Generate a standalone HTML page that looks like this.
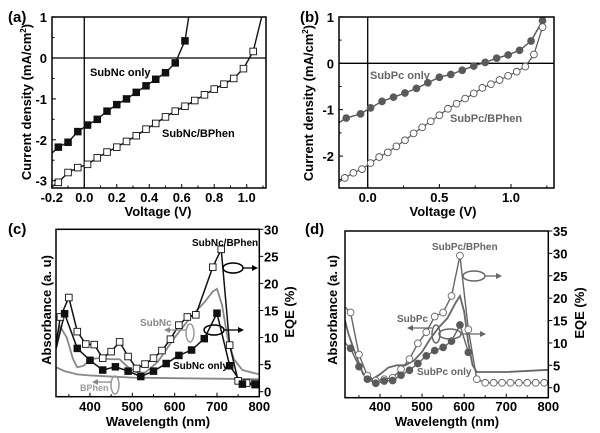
<!DOCTYPE html>
<html><head><meta charset="utf-8">
<style>
html,body{margin:0;padding:0;background:#fff;}
svg{display:block;font-family:"Liberation Sans",Arial,sans-serif;font-weight:bold;}
</style></head>
<body>
<svg id="fig" width="600" height="433" viewBox="0 0 600 433"></svg>
<script>
// ---------- data ----------
const aOnlyV=[-0.16,-0.10,-0.04,0.02,0.08,0.14,0.20,0.26,0.32,0.38,0.44,0.50,0.56,0.62];
const aOnlyJ=[-2.18,-2.06,-1.80,-1.64,-1.50,-1.30,-1.14,-1.00,-0.84,-0.68,-0.52,-0.36,-0.12,0.42];
const aBpV=[-0.16,-0.10,-0.04,0.02,0.08,0.14,0.20,0.26,0.32,0.38,0.44,0.50,0.56,0.62,0.68,0.74,0.80,0.86,0.92,0.98,1.04];
const aBpJ=[-3.04,-2.80,-2.68,-2.60,-2.44,-2.30,-2.18,-2.04,-1.90,-1.74,-1.60,-1.44,-1.30,-1.18,-1.04,-0.90,-0.76,-0.64,-0.50,-0.26,0.16];
const bOnlyV=[-0.15,-0.05,0.02,0.10,0.18,0.26,0.34,0.42,0.50,0.58,0.66,0.74,0.82,0.90,0.98,1.06,1.14,1.22];
const bOnlyJ=[-1.18,-1.09,-0.96,-0.82,-0.73,-0.64,-0.54,-0.42,-0.30,-0.24,-0.15,-0.06,0.02,0.11,0.18,0.28,0.48,0.92];
const bBpV=[-0.16,-0.10,-0.04,0.02,0.08,0.14,0.20,0.26,0.32,0.38,0.44,0.50,0.56,0.62,0.68,0.74,0.80,0.86,0.92,0.98,1.04,1.10,1.16,1.22];
const bBpJ=[-2.47,-2.36,-2.28,-2.15,-2.02,-1.92,-1.79,-1.66,-1.51,-1.38,-1.25,-1.12,-0.98,-0.87,-0.76,-0.65,-0.53,-0.45,-0.36,-0.27,-0.18,-0.07,0.19,0.78];
const cBpL=[330,350,370,390,410,430,450,470,490,510,530,550,570,590,610,630,650,690,710,730,750,770,790];
const cBpE=[13.8,17.4,11.1,8.8,8.7,6.2,7.4,9.2,6.5,4.3,5.1,6.2,7.6,9.7,12.3,13.8,14.2,23,26.3,8.6,2.0,1.6,1.5];
const cOnlyL=[340,370,400,430,460,490,520,550,580,610,640,670,700,730,760,790];
const cOnlyE=[14.4,8.0,5.8,4.0,4.6,3.8,2.8,3.8,5.2,6.7,7.7,9.8,14.5,4.8,1.4,1.3];
const cAbsL=[320,330,345,360,370,385,400,420,450,470,490,510,530,560,600,640,670,690,700,712,725,740,760,800];
const cAbsV=[8,12,10,6,4.5,4.8,6,6.2,6,6,4.5,3.6,3.5,5.5,10,14,16.5,18.5,19,16,10,6,4,3.2];
const cBphL=[320,340,370,400,450,500,600,700,800];
const cBphV=[4.5,3.8,3.2,3.0,2.8,2.6,2.5,2.4,2.3];
const dBpL=[330,350,370,390,410,430,450,470,490,510,530,550,570,590,610,630,650,670,690,710,730,750,770,790];
const dBpE=[16.8,7.4,2.7,1.6,1.9,2.2,4.1,6.4,9.9,12.4,15.9,16.8,20.5,29.5,13,1.9,1.1,1.1,1.1,1.1,1.1,1.1,1.1,1.1];
const dOnlyL=[330,350,370,390,410,430,450,470,490,510,530,550,570,590,610];
const dOnlyE=[8.8,4.7,1.9,1.0,1.5,1.6,2.8,3.9,5.4,7.1,8.3,9.0,10.4,14.0,7.9];
const dAbsL=[317,325,340,360,380,400,420,440,460,480,500,520,540,560,580,590,600,610,620,630,700,800];
const dAbsV=[15,12,8,3,1.8,3,4.5,5,5,6,8,11,13.5,15.5,19,20.5,17,10,5,3.5,3.5,4];
const aXTicks=[-0.2,0.0,0.2,0.4,0.6,0.8,1.0];
const aYTicks=[1,0,-1,-2,-3];
const bXTicks=[0.0,0.5,1.0];
const bYTicks=[1,0,-1,-2];
const cXTicks=[400,500,600,700,800];
const cYTicks=[0,5,10,15,20,25,30];
const dYTicks=[0,5,10,15,20,25,30,35];

const NS="http://www.w3.org/2000/svg";
const svg=document.getElementById('fig');
function el(tag,attrs,parent,text){const e=document.createElementNS(NS,tag);for(const k in attrs)e.setAttribute(k,attrs[k]);if(text!==undefined)e.textContent=text;(parent||svg).appendChild(e);return e;}
function scale(d0,d1,r0,r1){return v=>r0+(v-d0)*(r1-r0)/(d1-d0);}
function fmt(v,dec){return v.toFixed(dec);}

function frame(g,L,T,R,B){const r=el('rect',{x:L,y:T,width:R-L,height:B-T,fill:'none',stroke:'#000','stroke-width':1.5},g);}
function line(g,xs,ys,X,Y,color,w,name){const p=el('polyline',{points:xs.map((v,i)=>X(v)+','+Y(ys[i])).join(' '),fill:'none',stroke:color,'stroke-width':w},g);return p;}
function squares(g,xs,ys,X,Y,filled,name){xs.forEach((v,i)=>{const r=el('rect',{x:X(v)-3.3,y:Y(ys[i])-3.3,width:6.6,height:6.6,fill:filled?'#111':'#fff',stroke:'#111','stroke-width':0.9},g);});}
function circles(g,xs,ys,X,Y,fill,stroke,name){xs.forEach((v,i)=>{const c=el('circle',{cx:X(v),cy:Y(ys[i]),r:3.4,fill:fill,stroke:stroke,'stroke-width':0.9},g);});}
function text(g,x,y,s,opts,name){const t=el('text',Object.assign({x:x,y:y,'font-size':12},opts||{}),g,s);return t;}
function clip(id,L,T,R,B){const d=el('defs',{});const cp=el('clipPath',{id:id},d);el('rect',{x:L,y:T,width:R-L,height:B-T},cp);}

// ---------- panel a ----------
(function(){
const L=52,T=17,R=266,B=188;
const X=scale(-0.2,1.0,51.8,246.7), Y=scale(0,-3,58,180.7);
const g=el('g',{});
clip('ca',L,T,R,B);
const pg=el('g',{'clip-path':'url(#ca)'},g);
el('line',{x1:L,x2:R,y1:Y(0),y2:Y(0),stroke:'#000','stroke-width':1.3},pg);
el('line',{x1:X(0),x2:X(0),y1:T,y2:B,stroke:'#000','stroke-width':1.3},pg);
line(pg,[-0.2].concat(aOnlyV,[0.645]),[-2.33].concat(aOnlyJ,[1.05]),X,Y,'#111',1.4,'subnc-only-line');
line(pg,[-0.2].concat(aBpV,[1.095]),[-3.15].concat(aBpJ,[1.05]),X,Y,'#111',1.4,'subnc-bphen-line');
squares(pg,aOnlyV,aOnlyJ,X,Y,true,'subnc-only-marker');
squares(pg,aBpV,aBpJ,X,Y,false,'subnc-bphen-marker');
frame(g,L,T,R,B);
aXTicks.forEach(v=>{el('line',{x1:X(v),x2:X(v),y1:B,y2:B-4,stroke:'#000'},g);el('line',{x1:X(v+0.1),x2:X(v+0.1),y1:B,y2:B-2.5,stroke:'#000'},g);text(g,X(v),202,fmt(v,1),{'text-anchor':'middle','font-size':13},'x-tick-label');});
aYTicks.forEach(v=>{el('line',{x1:L,x2:L+4,y1:Y(v),y2:Y(v),stroke:'#000'},g);if(v>-3)el('line',{x1:L,x2:L+2.5,y1:Y(v-0.5),y2:Y(v-0.5),stroke:'#000'},g);text(g,47,Y(v)+5,String(v),{'text-anchor':'end','font-size':13},'y-tick-label');});
text(g,158,216,'Voltage (V)',{'text-anchor':'middle','font-size':13},'x-axis-title');
const yt=text(g,0,0,'',{'font-size':13,transform:'translate(31,102) rotate(-90)','text-anchor':'middle'},'y-axis-title');
yt.innerHTML='Current density (mA/cm<tspan dy="-5" font-size="8">2</tspan><tspan dy="5">)</tspan>';
text(g,8,22,'(a)',{'font-size':15},'panel-label-a');
text(g,90,76,'SubNc only',{'font-size':11},'label-subnc-only');
text(g,162,137,'SubNc/BPhen',{'font-size':11},'label-subnc-bphen');
})();

// ---------- panel b ----------
(function(){
const L=339,T=17,R=554,B=188;
const X=scale(0,1,367.7,511), Y=scale(0,-1,63.3,109.7);
const g=el('g',{});
clip('cb',L,T,R,B);
const pg=el('g',{'clip-path':'url(#cb)'},g);
el('line',{x1:L,x2:R,y1:Y(0),y2:Y(0),stroke:'#000','stroke-width':1.3},pg);
el('line',{x1:X(0),x2:X(0),y1:T,y2:B,stroke:'#000','stroke-width':1.3},pg);
line(pg,[-0.2].concat(bOnlyV),[-1.28].concat(bOnlyJ),X,Y,'#555',1.4,'subpc-only-line');
line(pg,[-0.2].concat(bBpV),[-2.56].concat(bBpJ),X,Y,'#555',1.2,'subpc-bphen-line');
circles(pg,bOnlyV,bOnlyJ,X,Y,'#5a5a5a','#5a5a5a','subpc-only-marker');
circles(pg,bBpV,bBpJ,X,Y,'#fff','#555','subpc-bphen-marker');
frame(g,L,T,R,B);
bXTicks.forEach(v=>{el('line',{x1:X(v),x2:X(v),y1:B,y2:B-4,stroke:'#000'},g);el('line',{x1:X(v+0.25),x2:X(v+0.25),y1:B,y2:B-2.5,stroke:'#000'},g);text(g,X(v),202,fmt(v,1),{'text-anchor':'middle','font-size':13},'x-tick-label');});
bYTicks.forEach(v=>{el('line',{x1:L,x2:L+4,y1:Y(v),y2:Y(v),stroke:'#000'},g);el('line',{x1:L,x2:L+2.5,y1:Y(v-0.5),y2:Y(v-0.5),stroke:'#000'},g);text(g,334,Y(v)+5,String(v),{'text-anchor':'end','font-size':13},'y-tick-label');});
text(g,443,216,'Voltage (V)',{'text-anchor':'middle','font-size':13},'x-axis-title');
const yt=text(g,0,0,'',{'font-size':13,transform:'translate(313,103) rotate(-90)','text-anchor':'middle'},'y-axis-title');
yt.innerHTML='Current density (mA/cm<tspan dy="-5" font-size="8">2</tspan><tspan dy="5">)</tspan>';
text(g,300,22,'(b)',{'font-size':15},'panel-label-b');
text(g,370,79,'SubPc only',{'font-size':11,fill:'#666'},'label-subpc-only');
text(g,450,122,'SubPc/BPhen',{'font-size':11,fill:'#666'},'label-subpc-bphen');
})();

// ---------- panel c ----------
(function(){
const L=56,T=229.3,R=259.3,B=396.7;
const X=scale(400,800,90,259.3), Y=scale(0,30,391.7,229.3);
const g=el('g',{});
clip('cc',L,T,R,B);
const pg=el('g',{'clip-path':'url(#cc)'},g);
line(pg,cBphL,cBphV,X,Y,'#888',1.8,'bphen-absorbance');
line(pg,cAbsL,cAbsV,X,Y,'#888',1.8,'subnc-absorbance');
line(pg,[320].concat(cBpL),[9].concat(cBpE),X,Y,'#111',1.5,'subnc-bphen-eqe-line');
line(pg,[320].concat(cOnlyL),[8].concat(cOnlyE),X,Y,'#111',1.5,'subnc-only-eqe-line');
squares(pg,cBpL,cBpE,X,Y,false,'subnc-bphen-marker');
squares(pg,cOnlyL,cOnlyE,X,Y,true,'subnc-only-marker');
frame(g,L,T,R,B);
cXTicks.forEach(v=>{el('line',{x1:X(v),x2:X(v),y1:B,y2:B-4,stroke:'#000'},g);el('line',{x1:X(v-50),x2:X(v-50),y1:B,y2:B-2.5,stroke:'#000'},g);text(g,X(v),411,String(v),{'text-anchor':'middle','font-size':13},'x-tick-label');});
cYTicks.forEach(v=>{el('line',{x1:R,x2:R+4,y1:Y(v),y2:Y(v),stroke:'#000'},g);text(g,264,Y(v)+5,String(v),{'font-size':13},'y-right-tick-label');});
text(g,158,426,'Wavelength (nm)',{'text-anchor':'middle','font-size':13},'x-axis-title');
text(g,0,0,'Absorbance (a. u)',{'font-size':13,transform:'translate(51,310) rotate(-90)','text-anchor':'middle'},'y-axis-title-left');
text(g,0,0,'EQE (%)',{'font-size':13,transform:'translate(294,312) rotate(-90)','text-anchor':'middle'},'y-axis-title-right');
text(g,8,234,'(c)',{'font-size':15},'panel-label-c');
text(g,192,246,'SubNc/BPhen',{'font-size':10},'label-subnc-bphen');
text(g,173,369,'SubNc only',{'font-size':10},'label-subnc-only');
text(g,140,326,'SubNc',{'font-size':10,fill:'#888'},'label-subnc');
text(g,80,391,'BPhen',{'font-size':9,fill:'#999'},'label-bphen');
el('ellipse',{cx:233,cy:268,rx:10,ry:5,fill:'none',stroke:'#000','stroke-width':1.5},g);
el('line',{x1:243,x2:255,y1:268,y2:268,stroke:'#000','stroke-width':1.3},g);
el('polygon',{points:'258,268 252,265 252,271',fill:'#000'},g);
el('ellipse',{cx:214,cy:330,rx:10,ry:5,fill:'none',stroke:'#000','stroke-width':1.5},g);
el('line',{x1:224,x2:240,y1:330,y2:330,stroke:'#000','stroke-width':1.3},g);
el('polygon',{points:'244,330 238,327 238,333',fill:'#000'},g);
el('ellipse',{cx:190,cy:333,rx:4,ry:9,fill:'none',stroke:'#999','stroke-width':1.5},g);
el('line',{x1:186,x2:168,y1:330,y2:330,stroke:'#888','stroke-width':1.3},g);
el('polygon',{points:'164,330 170,327 170,333',fill:'#888'},g);
el('ellipse',{cx:115,cy:385,rx:4,ry:9,fill:'none',stroke:'#999','stroke-width':1.5},g);
el('line',{x1:111,x2:96,y1:382,y2:382,stroke:'#888','stroke-width':1.3},g);
el('polygon',{points:'92,382 98,379 98,385',fill:'#888'},g);
})();

// ---------- panel d ----------
(function(){
const L=345,T=231,R=548.3,B=397.7;
const X=scale(400,800,380,548.3), Y=scale(0,35,387.7,231);
const g=el('g',{});
clip('cd',L,T,R,B);
const pg=el('g',{'clip-path':'url(#cd)'},g);
line(pg,dAbsL,dAbsV,X,Y,'#666',1.8,'subpc-absorbance');
line(pg,[317].concat(dBpL),[18].concat(dBpE),X,Y,'#666',1.4,'subpc-bphen-eqe-line');
line(pg,[317].concat(dOnlyL),[10].concat(dOnlyE),X,Y,'#666',1.4,'subpc-only-eqe-line');
circles(pg,dBpL,dBpE,X,Y,'#fff','#666','subpc-bphen-marker');
circles(pg,dOnlyL,dOnlyE,X,Y,'#5a5a5a','#5a5a5a','subpc-only-marker');
frame(g,L,T,R,B);
cXTicks.forEach(v=>{el('line',{x1:X(v),x2:X(v),y1:B,y2:B-4,stroke:'#000'},g);el('line',{x1:X(v-50),x2:X(v-50),y1:B,y2:B-2.5,stroke:'#000'},g);text(g,X(v),411,String(v),{'text-anchor':'middle','font-size':13},'x-tick-label');});
dYTicks.forEach(v=>{el('line',{x1:R,x2:R+4,y1:Y(v),y2:Y(v),stroke:'#000'},g);text(g,553,Y(v)+5,String(v),{'font-size':13},'y-right-tick-label');});
text(g,447,426,'Wavelength (nm)',{'text-anchor':'middle','font-size':13},'x-axis-title');
text(g,0,0,'Absorbance (a. u)',{'font-size':13,transform:'translate(337,310) rotate(-90)','text-anchor':'middle'},'y-axis-title-left');
text(g,0,0,'EQE (%)',{'font-size':13,transform:'translate(584,313) rotate(-90)','text-anchor':'middle'},'y-axis-title-right');
text(g,305,234,'(d)',{'font-size':15},'panel-label-d');
text(g,432,250,'SubPc/BPhen',{'font-size':10,fill:'#666'},'label-subpc-bphen');
text(g,417,375,'SubPc only',{'font-size':10,fill:'#666'},'label-subpc-only');
text(g,397,322,'SubPc',{'font-size':10,fill:'#666'},'label-subpc');
el('ellipse',{cx:474,cy:276,rx:11,ry:5,fill:'none',stroke:'#666','stroke-width':1.5},g);
el('line',{x1:485,x2:498,y1:276,y2:276,stroke:'#666','stroke-width':1.3},g);
el('polygon',{points:'502,276 496,273 496,279',fill:'#666'},g);
el('ellipse',{cx:450,cy:334,rx:11,ry:5,fill:'none',stroke:'#666','stroke-width':1.5},g);
el('line',{x1:461,x2:482,y1:334,y2:334,stroke:'#666','stroke-width':1.3},g);
el('polygon',{points:'486,334 480,331 480,337',fill:'#666'},g);
el('ellipse',{cx:436,cy:334,rx:4,ry:9,fill:'none',stroke:'#666','stroke-width':1.5},g);
el('line',{x1:432,x2:412,y1:328,y2:328,stroke:'#666','stroke-width':1.3},g);
el('polygon',{points:'407,328 413,325 413,331',fill:'#666'},g);
})();
</script>
</body></html>
